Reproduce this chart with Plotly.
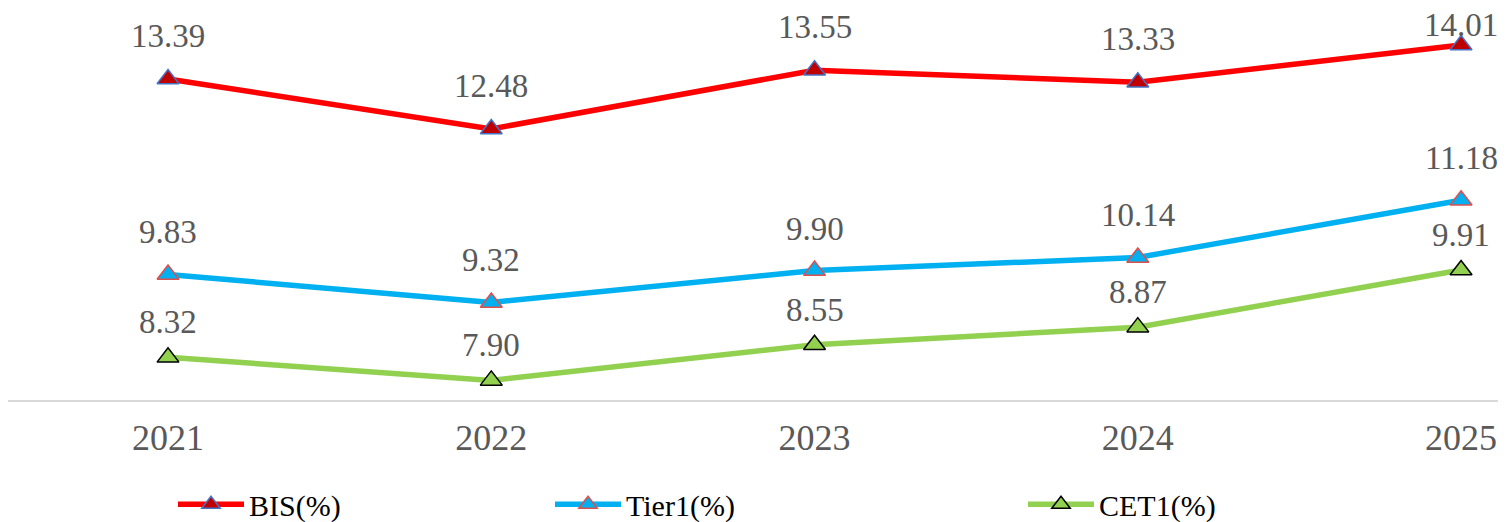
import plotly.graph_objects as go

years = ["2021", "2022", "2023", "2024", "2025"]
bis = [13.39, 12.48, 13.55, 13.33, 14.01]
tier1 = [9.83, 9.32, 9.90, 10.14, 11.18]
cet1 = [8.32, 7.90, 8.55, 8.87, 9.91]
names = ["BIS(%)", "Tier1(%)", "CET1(%)"]

W, H = 1498, 514
ML, MR, MT, MB = 0, 0, 0, 122
YMIN, YMAX = 7.543, 14.683
plot_h = H - MT - MB
plot_w = W - ML - MR

series = [
    dict(name=names[0], y=bis, line="#FF0000", fill="#C00000", edge="#4472C4", off=43, legend="legend"),
    dict(name=names[1], y=tier1, line="#00B0F0", fill="#00B0F0", edge="#E0504B", off=42, legend="legend2"),
    dict(name=names[2], y=cet1, line="#92D050", fill="#92D050", edge="#000000", off=35, legend="legend3"),
]

xs = list(range(len(years)))
fig = go.Figure()
annotations = []
for s in series:
    fig.add_trace(go.Scatter(
        x=xs, y=s["y"], mode="lines+markers", name=s["name"],
        line=dict(color=s["line"], width=5.5),
        marker=dict(symbol="triangle-up", size=19, color=s["fill"],
                    line=dict(color=s["edge"], width=1.5)),
        legend=s["legend"], cliponaxis=False, showlegend=True,
    ))
    for xi, v in zip(xs, s["y"]):
        py = (YMAX - v) / (YMAX - YMIN) * plot_h
        shift = min(s["off"], py - 17)
        annotations.append(dict(
            x=xi, y=v, xref="x", yref="y", text=f"{v:.2f}", showarrow=False,
            yshift=shift, font=dict(family="Liberation Serif", size=33, color="#595959"),
        ))

fig.update_layout(
    width=W, height=H, showlegend=True,
    margin=dict(l=ML, r=MR, t=MT, b=MB, autoexpand=False),
    paper_bgcolor="white", plot_bgcolor="white",
    annotations=annotations,
    xaxis=dict(
        range=[-0.495, 4.139], tickmode="array", tickvals=xs, ticktext=years,
        showgrid=False, zeroline=False, showline=True, linecolor="#D9D9D9", linewidth=1.5,
        ticks="", ticklabelstandoff=5,
        tickfont=dict(family="Liberation Serif", size=36, color="#595959"),
        automargin=False,
    ),
    yaxis=dict(range=[YMIN, YMAX], visible=False),
    font=dict(family="Liberation Serif"),
)

leg_common = dict(orientation="h", yanchor="middle", y=-0.266, xanchor="left",
                  font=dict(family="Liberation Serif", size=30, color="#000000"),
                  bgcolor="rgba(0,0,0,0)", itemwidth=66)
fig.update_layout(
    legend=dict(x=(173 - 8) / plot_w, **leg_common),
    legend2=dict(x=(550 - 8) / plot_w, **leg_common),
    legend3=dict(x=(1023 - 8) / plot_w, **leg_common),
)

fig.write_html("out.html")
